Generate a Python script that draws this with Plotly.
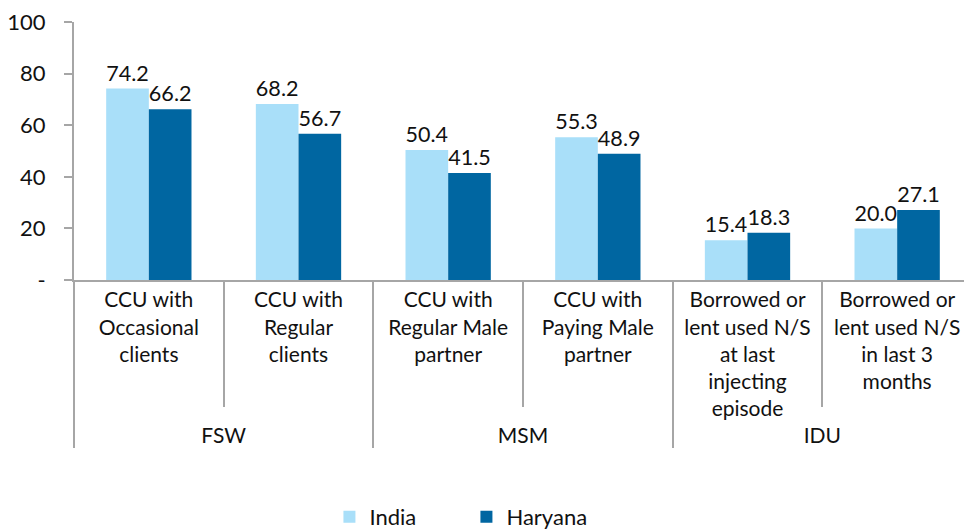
import plotly.graph_objects as go

groups = ["FSW", "FSW", "MSM", "MSM", "IDU", "IDU"]
categories = [
    "CCU with<br>Occasional<br>clients",
    "CCU with<br>Regular<br>clients",
    "CCU with<br>Regular Male<br>partner",
    "CCU with<br>Paying Male<br>partner",
    "Borrowed or<br>lent used N/S<br>at last<br>injecting<br>episode",
    "Borrowed or<br>lent used N/S<br>in last 3<br>months",
]
india = [74.2, 68.2, 50.4, 55.3, 15.4, 20.0]
haryana = [66.2, 56.7, 41.5, 48.9, 18.3, 27.1]
ytick_vals = [0, 20, 40, 60, 80, 100]
ytick_text = ["-", "20", "40", "60", "80", "100"]

FONT = "Lato, sans-serif"

fig = go.Figure()
fig.add_trace(go.Bar(
    name="India", x=[groups, categories], y=india,
    marker=dict(color="#A9DFF9", line=dict(width=0)),
    text=[f"{v:.1f}" for v in india], textposition="outside",
    textfont=dict(size=22, color="#111"), cliponaxis=False,
))
fig.add_trace(go.Bar(
    name="Haryana", x=[groups, categories], y=haryana,
    marker=dict(color="#0066A1", line=dict(width=0)),
    text=[f"{v:.1f}" for v in haryana], textposition="outside",
    textfont=dict(size=22, color="#111"), cliponaxis=False,
))

# page body has an 8px margin, so the figure is sized/offset to compensate
fig.update_layout(
    width=964, height=522,
    margin=dict(l=66, r=0, t=14, b=250),
    paper_bgcolor="white", plot_bgcolor="white",
    font=dict(family=FONT, size=22, color="#111"),
    barmode="group", bargap=0.43, bargroupgap=0,
    legend=dict(orientation="h", x=0.437, xanchor="center",
                yref="container", y=0.025, yanchor="middle",
                font=dict(size=22), entrywidth=92, itemwidth=30, traceorder="normal"),
)
fig.update_xaxes(
    type="multicategory", showline=True, linecolor="#A6A6A6", linewidth=2,
    showdividers=True, dividercolor="#A6A6A6", dividerwidth=2,
    ticks="outside", tickson="boundaries", ticklen=125, tickcolor="#A6A6A6", tickwidth=2,
    tickfont=dict(size=21), showgrid=False, automargin=False,
)
fig.update_yaxes(
    range=[0, 100], tickvals=ytick_vals, ticktext=ytick_text,
    showline=True, linecolor="#A6A6A6", linewidth=2,
    ticks="outside", ticklen=8, tickcolor="#A6A6A6", tickwidth=2,
    ticklabelstandoff=14, ticklabeloverflow="allow",
    showgrid=False, zeroline=False, tickfont=dict(size=22), automargin=False,
)

fig.write_html("out.html")
